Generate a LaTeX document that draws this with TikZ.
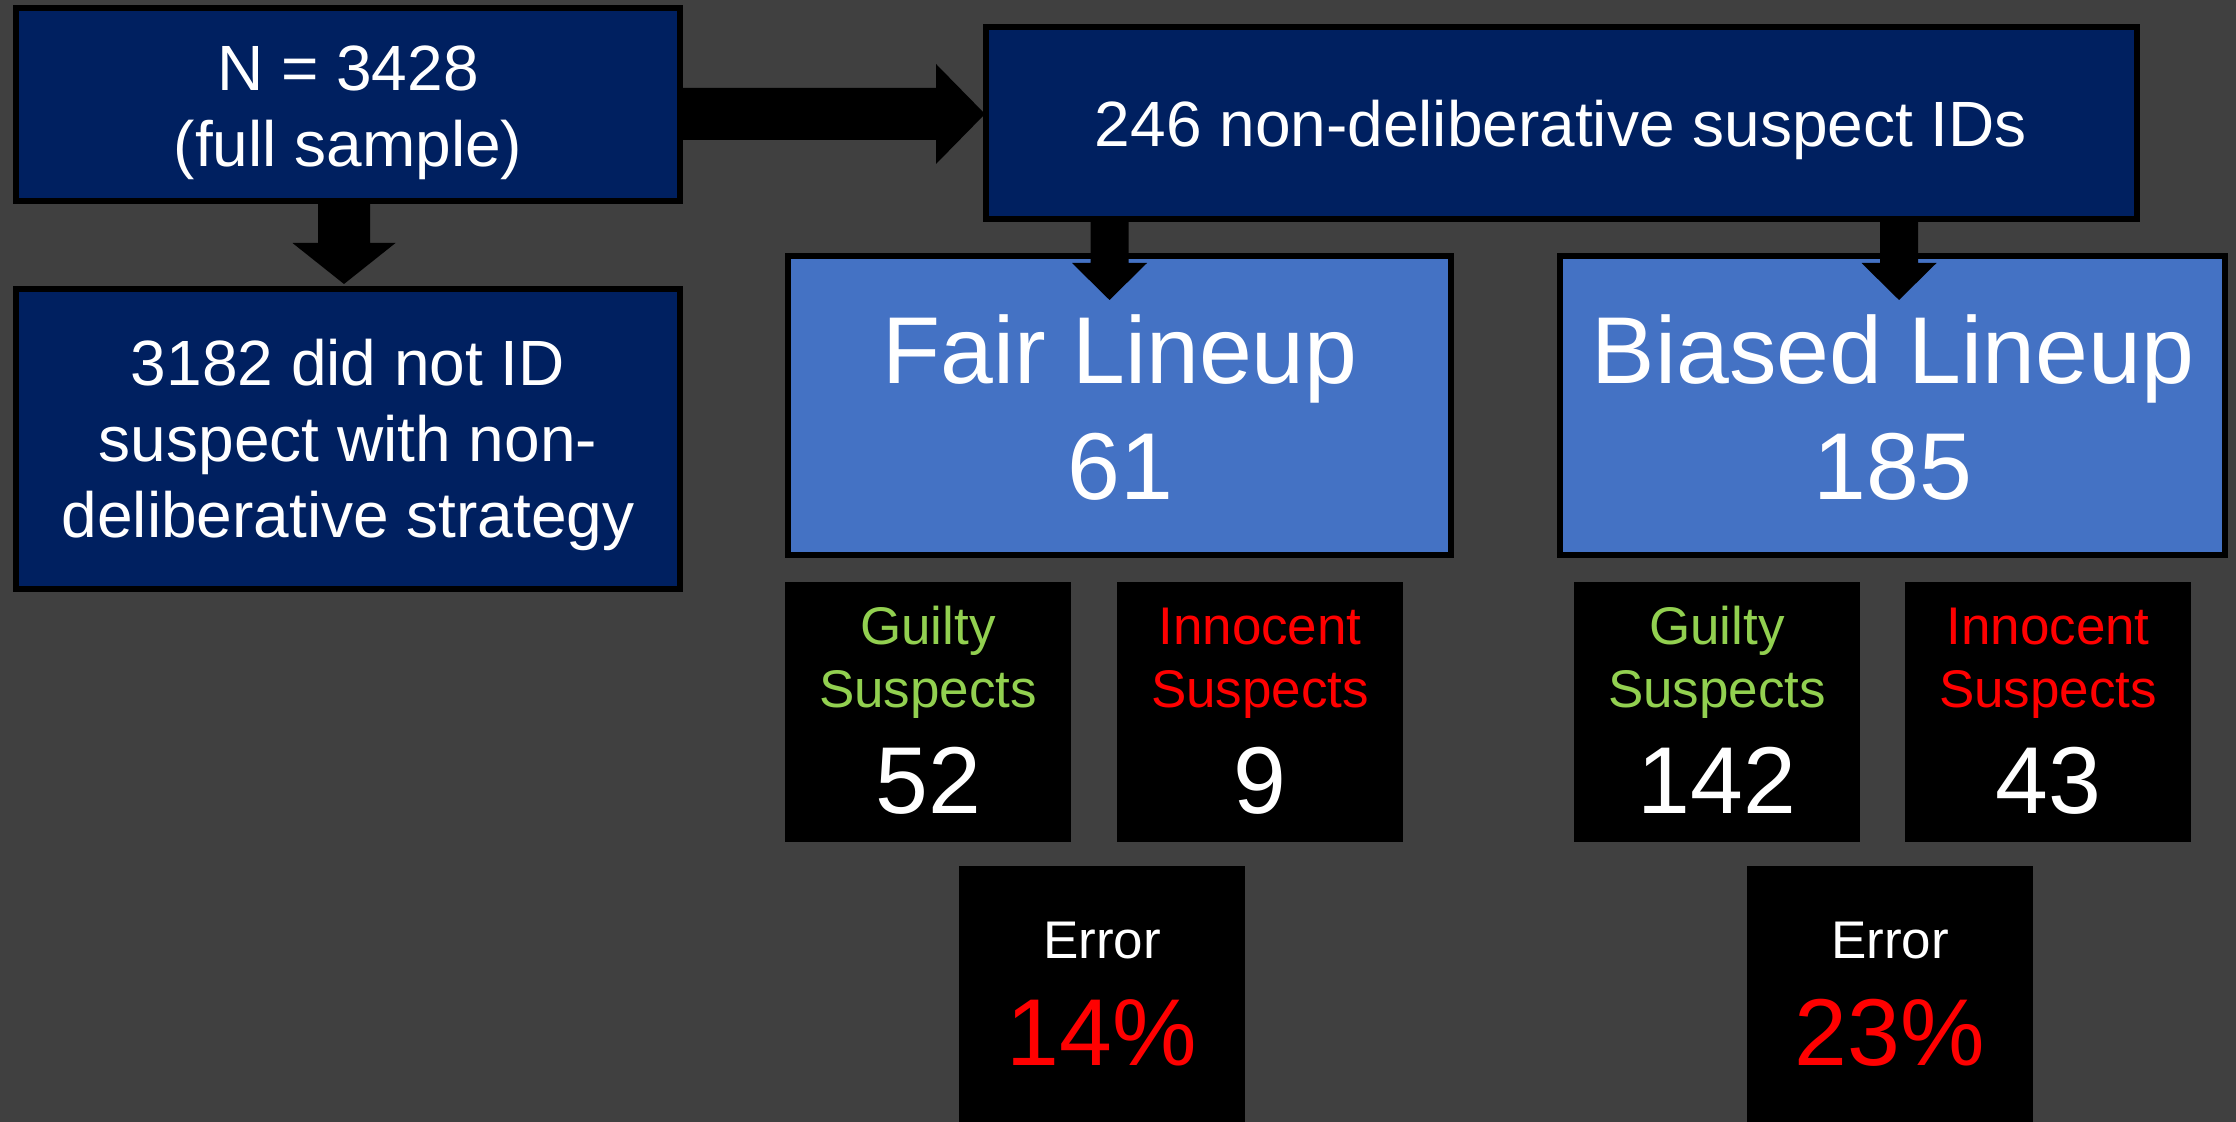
\documentclass[tikz,border=0pt]{standalone}
\usepackage{fontspec}
\setmainfont{Liberation Sans}
\usetikzlibrary{calc}

\definecolor{slidegray}{HTML}{404040}
\definecolor{navyfill}{HTML}{002060}
\definecolor{lineupfill}{HTML}{4472C4}
\definecolor{guiltygreen}{HTML}{92D050}
\definecolor{innocentred}{HTML}{FF0000}

% vertical block arrow: #1 start, #2 tip, #3 half shaft, #4 half head, #5 head length
\newcommand{\vblockarrow}[5]{%
  \fill[blockarrow] let \p1=#1, \p2=#2 in
    (\x2-#3,\y1) -- (\x2-#3,\y2+#5) -- (\x2-#4,\y2+#5) -- (\x2,\y2)
    -- (\x2+#4,\y2+#5) -- (\x2+#3,\y2+#5) -- (\x2+#3,\y1) -- cycle;}

\begin{document}
\begin{tikzpicture}[x=0.5pt,y=-0.5pt,
  outlined/.style={draw=black, line width=3pt, inner sep=0pt, outer sep=0pt},
  navybox/.style={outlined, fill=navyfill},
  lineupbox/.style={outlined, fill=lineupfill, minimum width=331.5pt, minimum height=149.5pt},
  countbox/.style={fill=black, inner sep=0pt, outer sep=0pt, minimum width=143pt, minimum height=130pt},
  errorbox/.style={fill=black, inner sep=0pt, outer sep=0pt, minimum width=143pt, minimum height=128pt},
  blockarrow/.style={fill=black},
  txt/.style={text=white, inner sep=0pt, anchor=base, align=center},
  midfont/.style={font=\fontsize{32pt}{38pt}\selectfont},
  bigfont/.style={font=\fontsize{47.5pt}{58pt}\selectfont},
  smallfont/.style={font=\fontsize{26.5pt}{31.5pt}\selectfont},
]
% background
\fill[slidegray] (0,0) rectangle (2236,1122);
\useasboundingbox (0,0) rectangle (2236,1122);

% sample boxes
\node[navybox, minimum width=332pt, minimum height=96.5pt] (full) at (348,104.5) {};
\node[navybox, minimum width=332pt, minimum height=150pt] (excl) at (348,439) {};
\node[navybox, minimum width=575.5pt, minimum height=96pt] (nondel) at (1561.5,123) {};

% lineup boxes
\node[lineupbox] (fair) at (1119.5,405.5) {};
\node[lineupbox, minimum width=332.5pt] (biased) at (1892.5,405.5) {};

% count boxes
\node[countbox] (fairg) at (928,712) {};
\node[countbox] (fairi) at (1260,712) {};
\node[countbox] (biasg) at (1717,712) {};
\node[countbox] (biasi) at (2048,712) {};
\node[errorbox] (fairerr) at (1102,994) {};
\node[errorbox] (biaserr) at (1890,994) {};

% block arrows
\vblockarrow{($(full.south)+(-4,0)$)}{($(excl.north)+(-4,-5)$)}{13pt}{25.75pt}{20.5pt}
\fill[blockarrow] let \p1=($(full.east)+(0,9.5)$), \p2=($(nondel.west)+(-1,-9)$) in
  (\x1,\y2+13pt) -- (\x2-24.5pt,\y2+13pt) -- (\x2-24.5pt,\y2+25pt) -- (\x2,\y2)
  -- (\x2-24.5pt,\y2-25pt) -- (\x2-24.5pt,\y2-13pt) -- (\x1,\y2-13pt) -- cycle;
\vblockarrow{($(nondel.south -| fair.north)+(-10,0)$)}{($(fair.north)+(-10,44)$)}{9.5pt}{18.75pt}{18.5pt}
\vblockarrow{($(nondel.south -| biased.north)+(6.5,0)$)}{($(biased.north)+(6.5,44)$)}{9.5pt}{18.75pt}{18.5pt}

% texts (multi-line texts are placed by the baseline of their last line)
\node[txt, midfont] (full-t) at (348,167) {N = 3428\\(full sample)};
\node[txt, midfont] (excl-t) at (348,538) {3182 did not ID\\suspect with non-\\deliberative strategy};
\node[txt, midfont] (nondel-t) at (1561,147) {246 non-deliberative suspect IDs};
\node[txt, bigfont] (fair-t) at (1120,500) {Fair Lineup\\61};
\node[txt, bigfont] (biased-t) at (1893,500) {Biased Lineup\\185};

\node[txt, smallfont, text=guiltygreen] (fairg-t) at (928,707) {Guilty\\Suspects};
\node[txt, bigfont] (fairg-n) at (928,813) {52};
\node[txt, smallfont, text=innocentred] (fairi-t) at (1260,707) {Innocent\\Suspects};
\node[txt, bigfont] (fairi-n) at (1260,813) {9};
\node[txt, smallfont, text=guiltygreen] (biasg-t) at (1717,707) {Guilty\\Suspects};
\node[txt, bigfont] (biasg-n) at (1717,813) {142};
\node[txt, smallfont, text=innocentred] (biasi-t) at (2048,707) {Innocent\\Suspects};
\node[txt, bigfont] (biasi-n) at (2048,813) {43};

\node[txt, smallfont] (fairerr-t) at (1102,958) {Error};
\node[txt, bigfont, text=innocentred] (fairerr-n) at (1102,1065) {14\%};
\node[txt, smallfont] (biaserr-t) at (1890,958) {Error};
\node[txt, bigfont, text=innocentred] (biaserr-n) at (1890,1065) {23\%};
\end{tikzpicture}
\end{document}
